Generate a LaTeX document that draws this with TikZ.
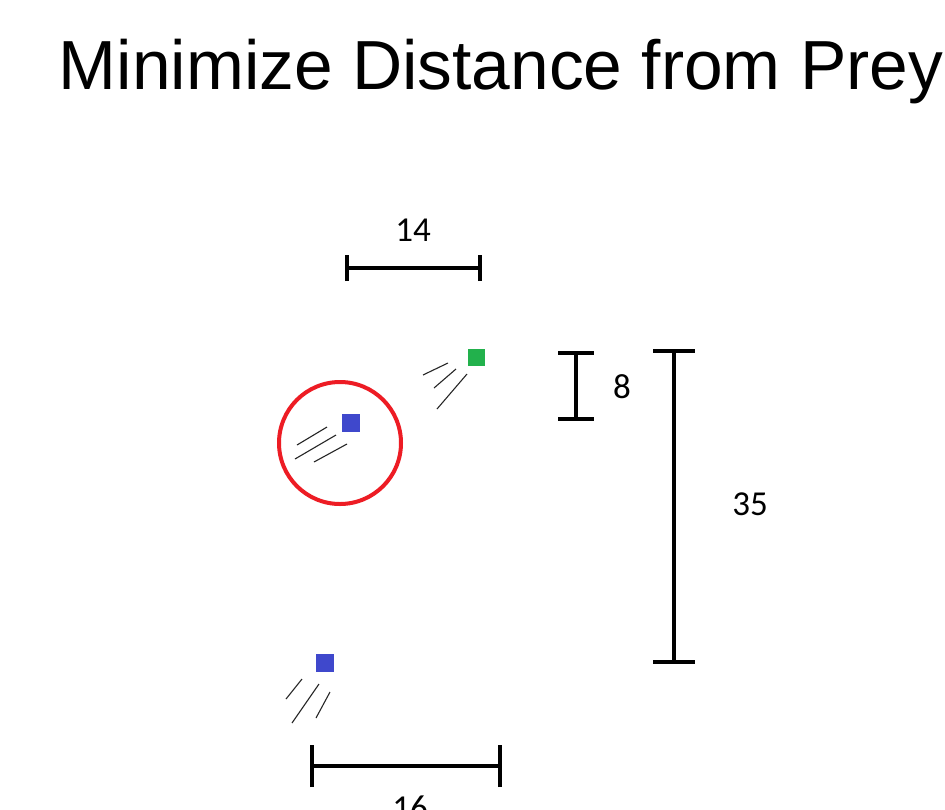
\documentclass[tikz,border=0pt]{standalone}
\usepackage{fontspec}
\setmainfont{Liberation Sans}
\newfontfamily\numfont{Carlito}
\definecolor{preygreen}{HTML}{22B14C}
\definecolor{predblue}{HTML}{3F48CC}
\definecolor{ringred}{HTML}{ED1C24}
\begin{document}
\begin{tikzpicture}[x=1pt,y=-1pt,
  bar/.style={line width=4pt,black},
  streak/.style={line width=1.1pt,black!85},
  agent/.style={minimum size=18pt,inner sep=0pt,draw=none},
  numlabel/.style={font=\numfont\fontsize{35}{40}\selectfont,inner sep=0pt}]
\useasboundingbox (0,0) rectangle (945,809);
\fill[white] (0,0) rectangle (945,809);
% title
\node[font=\fontsize{69.5}{74}\selectfont,inner sep=0pt] (title) at (501,72) {Minimize Distance from Prey};
% agents
\node[agent,fill=preygreen,minimum size=17pt] (prey) at (476,357) {};
\node[agent,fill=predblue] (hunterA) at (351,423) {};
\node[agent,fill=predblue] (hunterB) at (325,663) {};
\node[draw=ringred,line width=4pt,circle,minimum size=122pt,inner sep=0pt] (ring) at (340,443) {};
% streaks
\draw[streak] (423,375) -- (448,363);
\draw[streak] (434,388) -- (456,369);
\draw[streak] (437,409) -- (467,374);
\draw[streak] (297,445) -- (327,427);
\draw[streak] (295,459) -- (336,435);
\draw[streak] (314,462) -- (347,444);
\draw[streak] (286,699) -- (302,679);
\draw[streak] (292,723) -- (319,684);
\draw[streak] (316,718) -- (330,692);
% bar 14
\coordinate (a1) at (347,268); \coordinate (a2) at (480,268);
\draw[bar] (a1) -- (a2);
\draw[bar] ([yshift=-13pt]a1) -- ([yshift=13pt]a1);
\draw[bar] ([yshift=-13pt]a2) -- ([yshift=13pt]a2);
\node[numlabel] (l14) at (413,230) {14};
% bar 16
\coordinate (b1) at (312,766); \coordinate (b2) at (500,766);
\draw[bar] (b1) -- (b2);
\draw[bar] ([yshift=-21pt]b1) -- ([yshift=21pt]b1);
\draw[bar] ([yshift=-21pt]b2) -- ([yshift=21pt]b2);
\node[numlabel,anchor=north] (l16) at (410,796) {16};
% bar 8
\coordinate (c1) at (576,353); \coordinate (c2) at (576,419);
\draw[bar] (c1) -- (c2);
\draw[bar] ([xshift=-18pt]c1) -- ([xshift=18pt]c1);
\draw[bar] ([xshift=-18pt]c2) -- ([xshift=18pt]c2);
\node[numlabel] (l8) at (622,387) {8};
% bar 35
\coordinate (d1) at (674,351); \coordinate (d2) at (674,662);
\draw[bar] (d1) -- (d2);
\draw[bar] ([xshift=-21pt]d1) -- ([xshift=21pt]d1);
\draw[bar] ([xshift=-21pt]d2) -- ([xshift=21pt]d2);
\node[numlabel] (l35) at (750,504) {35};
\end{tikzpicture}
\end{document}
